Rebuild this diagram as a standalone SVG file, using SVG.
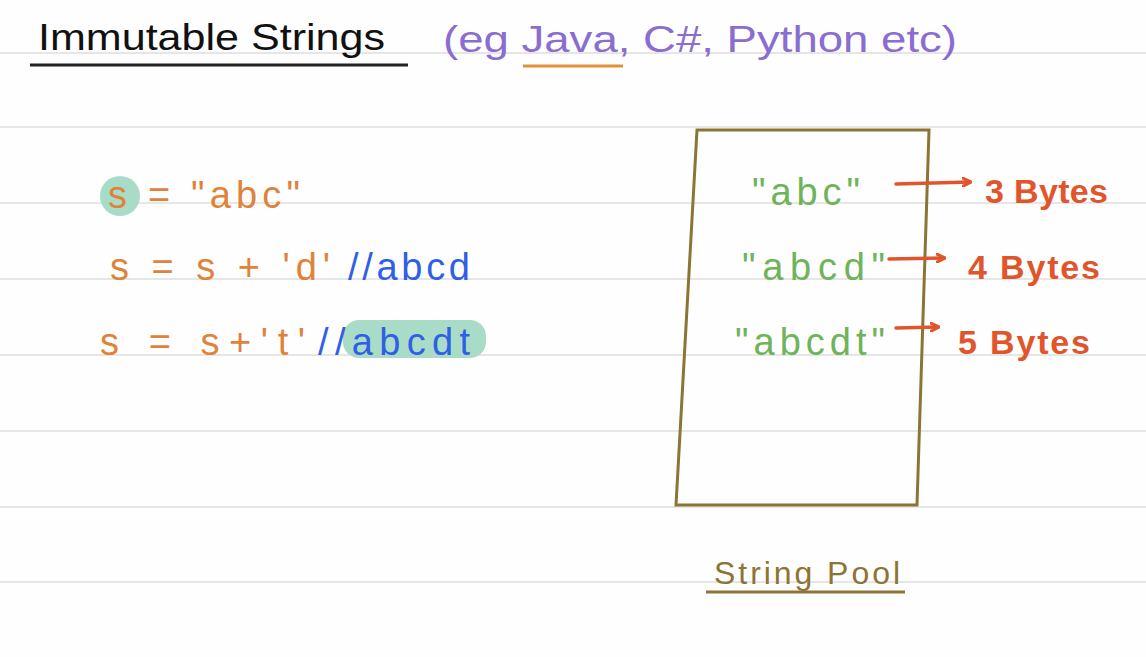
<svg xmlns="http://www.w3.org/2000/svg" width="1146" height="657" viewBox="0 0 1146 657">
<style>
.rule{stroke:#e6e6e6;stroke-width:2}
.t{font-family:"Liberation Sans",Arial,sans-serif}
.title{font-size:36px;fill:#111}
.purple{font-size:36px;fill:#8a6dd0}
.code{font-size:38px;fill:#e0833a}
.cmt{font-size:38px;fill:#2f5fe6}
.pool{font-size:38px;fill:#6fb35a}
.bytes{font-size:34px;fill:#e0552c;font-weight:bold}
.poollbl{font-size:32px;fill:#8c7434}
.hl{fill:#a9dcc6}
.arrow{stroke:#e0552c;stroke-width:3.5;fill:none;stroke-linecap:round}
</style>
<defs>
<marker id="ah" markerWidth="10" markerHeight="10" refX="8" refY="5" orient="auto" markerUnits="userSpaceOnUse">
<path d="M1,1 L9,5 L1,9" fill="none" stroke="#e0552c" stroke-width="3" stroke-linecap="round"/>
</marker>
</defs>
<rect width="1146" height="657" fill="#fefefe"/>
<g id="rules">
<line class="rule" x1="0" y1="53" x2="1146" y2="53"/>
<line class="rule" x1="0" y1="127" x2="1146" y2="127"/>
<line class="rule" x1="0" y1="203" x2="1146" y2="203"/>
<line class="rule" x1="0" y1="279" x2="1146" y2="279"/>
<line class="rule" x1="0" y1="355" x2="1146" y2="355"/>
<line class="rule" x1="0" y1="431" x2="1146" y2="431"/>
<line class="rule" x1="0" y1="507" x2="1146" y2="507"/>
<line class="rule" x1="0" y1="582" x2="1146" y2="582"/>
</g>
<g id="title">
<text class="t title" x="38" y="50" textLength="347" lengthAdjust="spacingAndGlyphs">Immutable Strings</text>
<line x1="30" y1="65" x2="408" y2="65" stroke="#222" stroke-width="3"/>
</g>
<g id="examples">
<text class="t purple" x="443" y="52" textLength="514" lengthAdjust="spacingAndGlyphs">(eg Java, C#, Python etc)</text>
<line x1="523" y1="66" x2="623" y2="66" stroke="#e0913c" stroke-width="3"/>
</g>
<g id="code">
<circle class="hl" cx="120" cy="196" r="20"/>
<rect class="hl" x="343" y="320" width="143" height="38" rx="16"/>
<text class="t code" x="108" y="208" textLength="192" lengthAdjust="spacing">s = "abc"</text>
<text class="t code" x="110" y="280" textLength="220" lengthAdjust="spacing">s = s + 'd'</text>
<text class="t cmt" x="348" y="280" textLength="122" lengthAdjust="spacing">//abcd</text>
<text class="t code" x="100" y="355" textLength="205" lengthAdjust="spacing">s = s+'t'</text>
<text class="t cmt" x="318" y="355" textLength="152" lengthAdjust="spacing">//abcdt</text>
</g>
<g id="stringpool">
<path d="M697,130 L929,130 L917,505 L676,505 Z" fill="none" stroke="#8c7434" stroke-width="3"/>
<text class="t pool" x="752" y="205" textLength="108" lengthAdjust="spacing">"abc"</text>
<text class="t pool" x="742" y="280" textLength="143" lengthAdjust="spacing">"abcd"</text>
<text class="t pool" x="735" y="355" textLength="150" lengthAdjust="spacing">"abcdt"</text>
</g>
<g id="connectors">
<line class="arrow" x1="896" y1="184" x2="970" y2="182" marker-end="url(#ah)"/>
<line class="arrow" x1="889" y1="259" x2="944" y2="258" marker-end="url(#ah)"/>
<line class="arrow" x1="896" y1="328" x2="938" y2="327" marker-end="url(#ah)"/>
</g>
<g id="bytes">
<text class="t bytes" x="985" y="203" textLength="123" lengthAdjust="spacing">3 Bytes</text>
<text class="t bytes" x="968" y="279" textLength="132" lengthAdjust="spacing">4 Bytes</text>
<text class="t bytes" x="958" y="354" textLength="132" lengthAdjust="spacing">5 Bytes</text>
</g>
<g id="poollabel">
<text class="t poollbl" x="714" y="584" textLength="186" lengthAdjust="spacing">String Pool</text>
<line x1="706" y1="592" x2="905" y2="592" stroke="#8c7434" stroke-width="3"/>
</g>
</svg>
